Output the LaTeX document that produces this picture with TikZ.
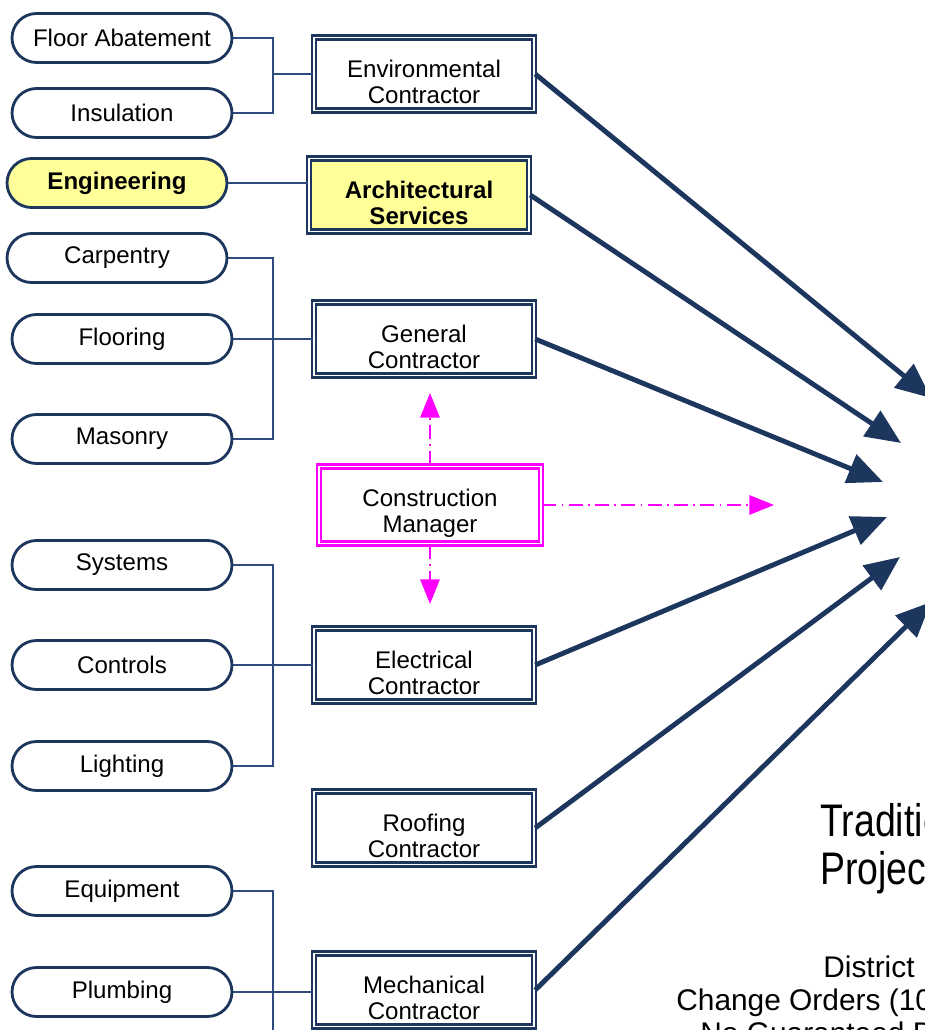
\documentclass[tikz,border=0pt]{standalone}
\usepackage{fontspec}
\setmainfont{Liberation Sans}
\newfontfamily\narrowfont[FakeStretch=0.82]{Liberation Sans}
\usetikzlibrary{arrows.meta, shapes.misc}
\definecolor{navy}{RGB}{28,54,94}
\definecolor{busblue}{RGB}{45,75,125}
\definecolor{paleyellow}{RGB}{255,255,153}
\definecolor{cmpink}{RGB}{255,0,255}

\begin{document}
\begin{tikzpicture}[
    x = 0.02cm, y = -0.02cm,
    every node/.style = {font=\fontsize{13.7}{14.7}\selectfont, align=center, inner sep=0pt},
    every label/.style = {yshift=-4.5pt},
    task/.style = {draw=navy, line width=1.6pt, rounded rectangle,
        minimum width=4.4cm, minimum height=0.98cm, fill=white},
    firm/.style = {draw=navy, line width=1.4pt, double, double distance=0.9pt,
        minimum width=4.4cm, minimum height=1.46cm, fill=white},
    hilite/.style = {fill=paleyellow, font=\fontsize{13.7}{14.7}\selectfont\bfseries},
    bus/.style = {draw=busblue, line width=1.3pt},
    feed/.style = {draw=navy, line width=2.8pt, -{Triangle[length=20pt, width=17pt]}},
    cmlink/.style = {draw=cmpink, line width=1.1pt,
        dash pattern=on 8pt off 3pt on 1pt off 3pt, -{Triangle[length=14pt, width=11pt]}}
  ]
    \useasboundingbox (0,0) rectangle (925,1030);
    \clip (0,0) rectangle (925,1030);

    % trades
    \node[task] (abate) at (122,38)  {Floor Abatement};
    \node[task] (insul) at (122,113) {Insulation};
    \node[task, hilite] (eng) at (117,183) {Engineering};
    \node[task] (carp)  at (117,258) {Carpentry};
    \node[task] (floor) at (122,339) {Flooring};
    \node[task] (mason) at (122,439) {Masonry};
    \node[task] (sys)   at (122,565) {Systems};
    \node[task] (ctrl)  at (122,665) {Controls};
    \node[task] (light) at (122,766) {Lighting};
    \node[task] (equip) at (122,891) {Equipment};
    \node[task] (plumb) at (122,992) {Plumbing};

    % contractors (text sits a little low in the boxes)
    \node[firm, label=center:Environmental\\Contractor] (env) at (424,74) {};
    \node[firm, hilite, label={[font=\fontsize{13.7}{14.7}\selectfont\bfseries]center:Architectural\\Services}] (arch) at (419,195) {};
    \node[firm, label=center:General\\Contractor] (gc) at (424,339) {};
    \node[firm, draw=cmpink, minimum width=4.44cm, minimum height=1.54cm,
        label=center:Construction\\Manager] (cm) at (430,505) {};
    \node[firm, label=center:Electrical\\Contractor] (elec) at (424,665) {};
    \node[firm, label=center:Roofing\\Contractor] (roof) at (424,828) {};
    \node[firm, label=center:Mechanical\\Contractor] (mech) at (424,990) {};

    % buses
    \coordinate (busA) at (273,74);
    \coordinate (busB) at (273,339);
    \coordinate (busC) at (273,665);
    \coordinate (busD) at (273,1040);
    \draw[bus] (abate.east) -| (busA) |- (insul.east);
    \draw[bus] (busA) -- (env.west);
    \draw[bus] (eng.east) -- (eng.east -| arch.west);
    \draw[bus] (carp.east) -| (busB) |- (mason.east);
    \draw[bus] (floor.east) -- (gc.west);
    \draw[bus] (sys.east) -| (busC) |- (light.east);
    \draw[bus] (ctrl.east) -- (elec.west);
    \draw[bus] (equip.east) -| (busD);
    \draw[bus] (plumb.east) -- (plumb.east -| mech.west);

    % into the owner
    \coordinate (inA) at (931,398);
    \coordinate (inB) at (901,443);
    \coordinate (inC) at (883,482);
    \coordinate (inD) at (887,517);
    \coordinate (inE) at (900,557);
    \coordinate (inF) at (931,602);
    \draw[feed] (env.east)  -- (inA);
    \draw[feed] (arch.east) -- (inB);
    \draw[feed] (gc.east)   -- (inC);
    \draw[feed] (elec.east) -- (inD);
    \draw[feed] (roof.east) -- (inE);
    \draw[feed] (mech.east) -- (inF);

    % construction manager links
    \coordinate (cmUp)    at (430,393);
    \coordinate (cmDown)  at (430,604);
    \coordinate (cmRight) at (774,505);
    \draw[cmlink] (cm.north) -- (cmUp);
    \draw[cmlink] (cm.south) -- (cmDown);
    \draw[cmlink] (cm.east)  -- (cmRight);

    % caption (cut off at the right)
    \node[anchor=base west, font=\narrowfont\fontsize{26}{30}\selectfont] (ttlA) at (820,836) {Traditio};
    \node[anchor=base west, font=\narrowfont\fontsize{26}{30}\selectfont] (ttlB) at (820,884) {Projec};
    \node[anchor=base west, font=\fontsize{17}{18.7}\selectfont] (dist) at (823,977)  {District};
    \node[anchor=base west, font=\fontsize{17}{18.7}\selectfont] (chg)  at (676,1010) {Change Orders (10};
    \node[anchor=base west, font=\fontsize{17}{18.7}\selectfont] (nogd) at (700,1043) {No Guaranteed D};
\end{tikzpicture}
\end{document}
